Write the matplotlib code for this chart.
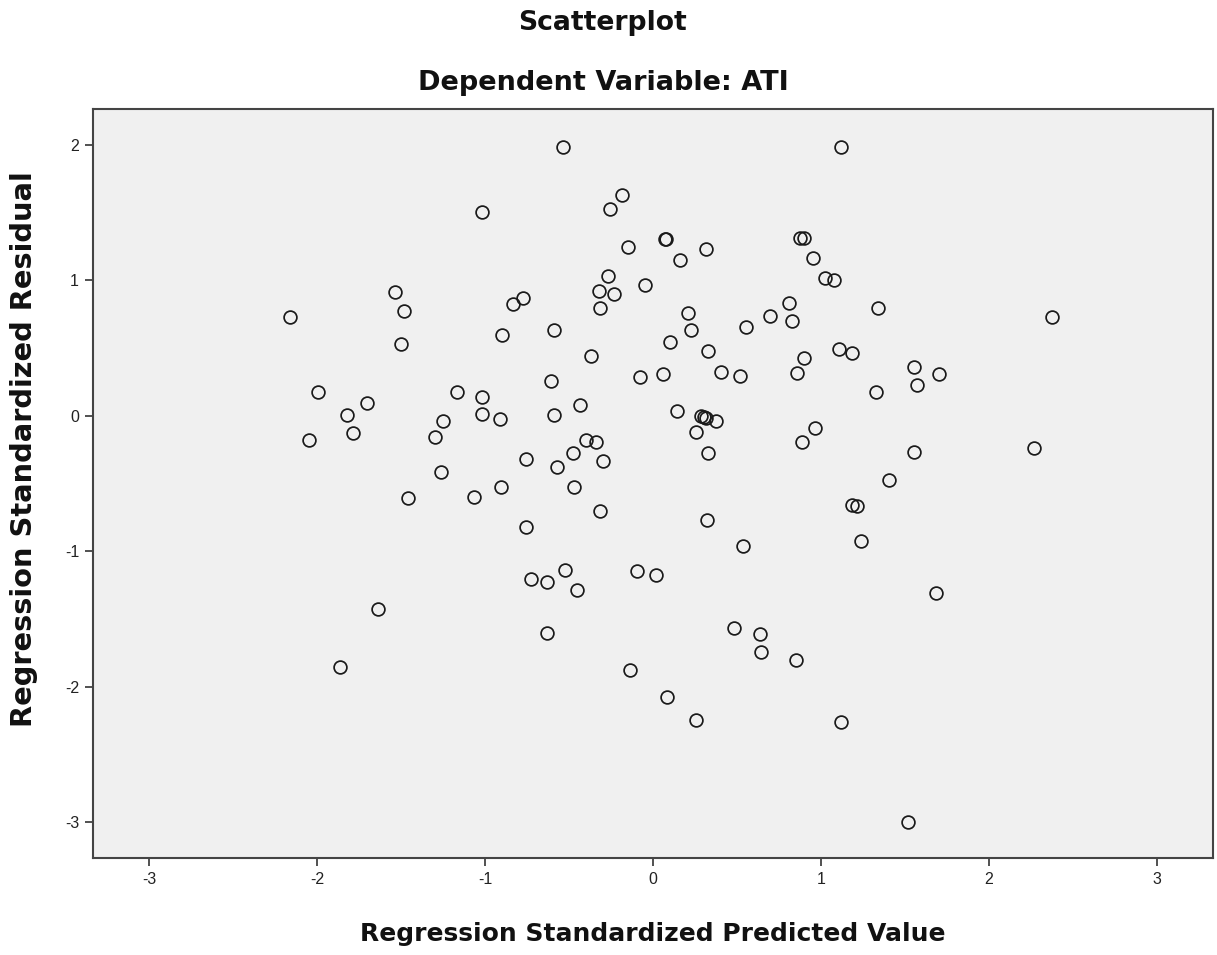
import matplotlib
matplotlib.use("Agg")
import matplotlib.pyplot as plt

# Regression standardized predicted value (x) and residual (y)
pred = [
    -0.535, 1.121, -1.018, -0.182, -0.257, -0.147, 0.071, 0.075, 0.313, 0.162,
    0.877, 0.897, 0.953, 1.026, 1.075, -0.267, -0.321, -0.232, -0.315, -0.050,
    -0.771, -0.832, -0.899, -0.592, 0.208, 0.228, 0.099, 0.327, 0.551, 0.697,
    0.812, 0.828, 0.897, 0.858, -0.368, -0.608, -0.079, 0.059, 0.406, 0.519,
    -1.020, -1.020, -0.913, -0.588, -0.436, 0.145, 0.283, 0.303, 0.315, 0.372,
    0.257, 0.325, 0.963, 0.887, -0.398, -0.341, -0.477, -0.755, -0.572, -0.295,
    -1.064, -0.903, -0.471, -0.313, -0.753, 0.323, 0.533, -0.729, -0.632, -0.525,
    -0.450, -0.097, 0.020, -0.630, 0.485, 0.634, 0.644, 0.852, -0.137, 0.081,
    0.257, 1.121, -2.163, -1.533, -1.484, -1.499, -1.992, -1.701, -1.824, -1.787,
    -2.050, -1.169, -1.252, -1.297, -1.262, -1.460, -1.638, -1.864, 1.339, 2.377,
    1.109, 1.184, 1.551, 1.703, 1.573, 1.329, 1.553, 2.268, 1.402, 1.184,
    1.214, 1.240, 1.682, 1.515,
]
resid = [
    1.985, 1.983, 1.506, 1.627, 1.526, 1.242, 1.304, 1.304, 1.227, 1.148,
    1.309, 1.309, 1.161, 1.012, 1.000, 1.030, 0.919, 0.894, 0.793, 0.965,
    0.869, 0.825, 0.598, 0.630, 0.760, 0.632, 0.543, 0.476, 0.657, 0.738,
    0.830, 0.699, 0.427, 0.316, 0.437, 0.259, 0.287, 0.306, 0.326, 0.291,
    0.136, 0.012, -0.022, 0.005, 0.081, 0.032, -0.005, -0.012, -0.015, -0.040,
    -0.123, -0.272, -0.091, -0.193, -0.178, -0.195, -0.277, -0.319, -0.375, -0.333,
    -0.602, -0.523, -0.528, -0.704, -0.820, -0.770, -0.960, -1.202, -1.230, -1.136,
    -1.284, -1.143, -1.178, -1.605, -1.568, -1.610, -1.741, -1.802, -1.879, -2.072,
    -2.247, -2.257, 0.728, 0.914, 0.773, 0.528, 0.178, 0.091, 0.005, -0.131,
    -0.178, 0.178, -0.042, -0.156, -0.412, -0.605, -1.425, -1.857, 0.793, 0.728,
    0.489, 0.464, 0.358, 0.309, 0.225, 0.173, -0.267, -0.235, -0.474, -0.659,
    -0.664, -0.923, -1.309, -3.000,
]
x_ticks = [-3, -2, -1, 0, 1, 2, 3]
y_ticks = [-3, -2, -1, 0, 1, 2]

title1 = "Scatterplot"
title2 = "Dependent Variable: ATI"
x_label = "Regression Standardized Predicted Value"
y_label = "Regression Standardized Residual"

plt.rcParams['font.family'] = ['Liberation Sans', 'DejaVu Sans']
label_font = ['DejaVu Sans']

W, H = 1217, 955
fig = plt.figure(figsize=(W / 100, H / 100), dpi=100)
fig.patch.set_facecolor('white')

left, right, top, bottom = 93, 1213, 109, 858
ax = fig.add_axes([left / W, 1 - bottom / H, (right - left) / W, (bottom - top) / H])
ax.set_facecolor('#f0f0f0')

ax.plot(pred, resid, linestyle='none', marker='o', markersize=9.2,
        markerfacecolor='none', markeredgecolor='#1a1a1a', markeredgewidth=1.25)

ax.set_xlim(-3.333, 3.333)
ax.set_ylim(-3.262, 2.262)
ax.set_xticks(x_ticks)
ax.set_yticks(y_ticks)
ax.set_xticklabels([str(t) for t in x_ticks])
ax.set_yticklabels([str(t) for t in y_ticks])
ax.tick_params(axis='both', direction='out', length=6, width=1.2,
               color='#333333', labelsize=11.5, labelcolor='#222222', pad=4)
ax.tick_params(top=False, right=False)
for s in ax.spines.values():
    s.set_color('#444444')
    s.set_linewidth(1.5)

fig.text(603 / W, 1 - 23 / H, title1, ha='center', va='center', family=label_font,
         fontsize=19.2, fontweight='bold', color='#111111')
fig.text(603 / W, 1 - 83 / H, title2, ha='center', va='center', family=label_font,
         fontsize=19.5, fontweight='bold', color='#111111')
fig.text(653 / W, 1 - 934 / H, x_label, ha='center', va='center', family=label_font,
         fontsize=18, fontweight='bold', color='#111111')
fig.text(24 / W, 1 - 449 / H, y_label, ha='center', va='center', family=label_font,
         rotation=90, fontsize=20.8, fontweight='bold', color='#111111')

fig.savefig('out.png', dpi=100)
